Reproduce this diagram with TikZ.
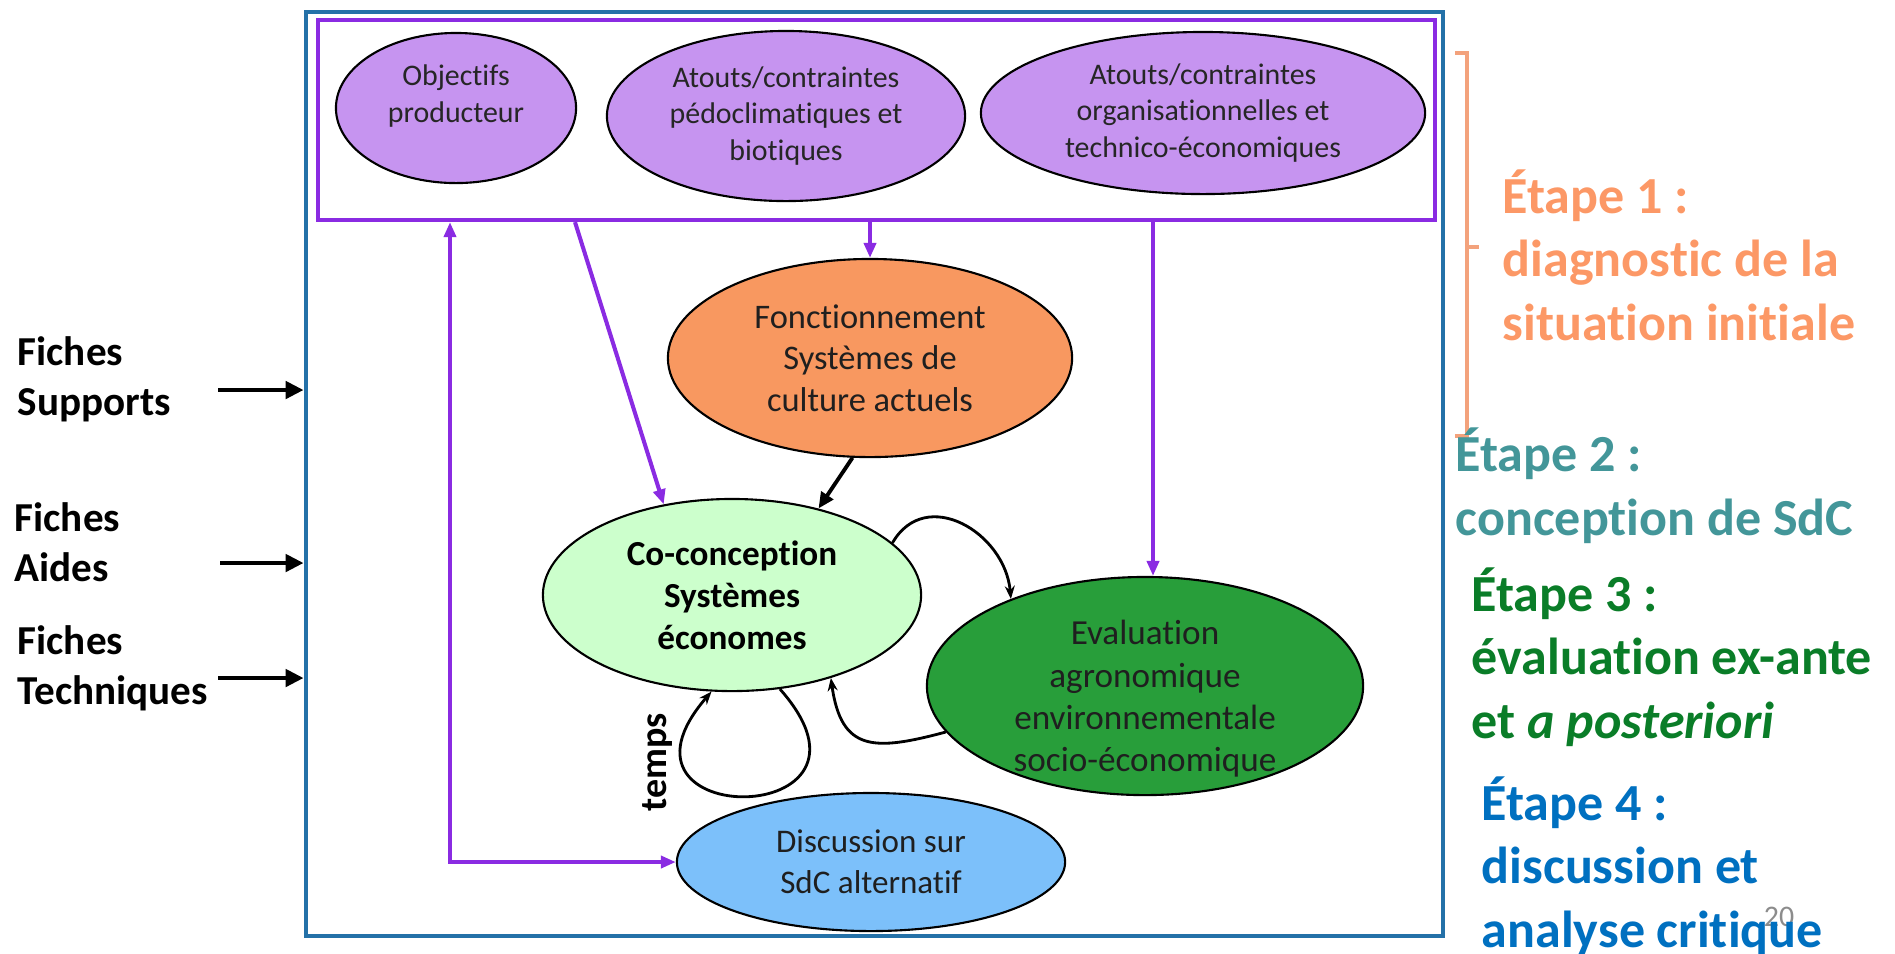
\documentclass[tikz,border=0pt]{standalone}
\usepackage{fontspec}
\setmainfont{Carlito}[Ligatures=NoCommon]
\usetikzlibrary{arrows.meta, positioning, calc, shapes.geometric}

\begin{document}
\begin{tikzpicture}[
    x=0.01cm, y=0.01cm,
    font=\fontsize{8.5}{10.5}\selectfont,
    topell/.style={ellipse, draw=black, line width=0.6pt, fill=lavender, inner sep=0pt, align=center, text=black!85},
    midell/.style={ellipse, draw=black, line width=0.6pt, inner sep=0pt, align=center, text=black!88},
    violetline/.style={draw=violetdraw, line width=1.15pt},
    violetarrow/.style={violetline, -{Triangle[length=0.15cm, width=0.12cm]}},
    violetboth/.style={violetline, {Triangle[length=0.15cm, width=0.12cm]}-{Triangle[length=0.15cm, width=0.12cm]}},
    blackarrow/.style={draw=black, line width=1.1pt, -{Triangle[length=0.16cm, width=0.14cm]}},
    fichearrow/.style={draw=black, line width=1.4pt, -{Triangle[length=0.18cm, width=0.17cm]}},
    loopline/.style={draw=black, line width=0.8pt, -{Stealth[length=0.13cm, width=0.1cm]}},
    fichelabel/.style={anchor=west, inner sep=0pt, align=left, font=\bfseries\fontsize{11.7}{14.2}\selectfont},
    etapelabel/.style={anchor=west, inner sep=0pt, align=left, font=\bfseries\fontsize{14.8}{18.1}\selectfont},
]

% ===== Colors =====
\definecolor{framedraw}{RGB}{36,113,168}
\definecolor{violetdraw}{RGB}{138,43,226}
\definecolor{lavender}{RGB}{198,148,240}
\definecolor{orangefill}{RGB}{248,152,96}
\definecolor{lightgreen}{RGB}{204,255,204}
\definecolor{darkgreen}{RGB}{40,158,58}
\definecolor{skyblue}{RGB}{124,192,250}
\definecolor{etapeA}{RGB}{252,152,102}
\definecolor{etapeB}{RGB}{67,150,153}
\definecolor{etapeC}{RGB}{10,125,40}
\definecolor{etapeD}{RGB}{0,112,192}
\definecolor{bracketorange}{RGB}{243,162,124}

\useasboundingbox (0,0) rectangle (1895,-953);

% ===== Frames =====
\node[draw=framedraw, line width=1.15pt, minimum width=11.37cm, minimum height=9.24cm, inner sep=0pt] (frame) at (874.5,-474) {};
\node[draw=violetdraw, line width=1.15pt, minimum width=11.17cm, minimum height=2.00cm, inner sep=0pt] (inputs) at (876.5,-120) {};

% ===== Inputs (top row) =====
\node[topell, minimum width=2.40cm, minimum height=1.50cm] (objectifs) at (456,-108) {Objectifs\\producteur\rule[-0.28cm]{0pt}{0.28cm}};
\node[topell, minimum width=3.58cm, minimum height=1.70cm] (pedo) at (786,-116) {Atouts/contraintes\\pédoclimatiques et\\biotiques};
\node[topell, minimum width=4.44cm, minimum height=1.62cm] (orga) at (1203,-113) {Atouts/contraintes\\organisationnelles et\\technico-économiques};

% ===== Steps =====
\node[midell, fill=orangefill, minimum width=4.04cm, minimum height=1.98cm, font=\fontsize{9.8}{11.8}\selectfont] (fonction) at (870,-358) {Fonctionnement\\Systèmes de\\culture actuels};
\node[midell, fill=lightgreen, minimum width=3.78cm, minimum height=1.92cm, text=black, font=\bfseries\fontsize{10}{12}\selectfont] (coconception) at (732,-595) {Co-conception\\Systèmes\\économes};
\node[midell, fill=darkgreen, minimum width=4.36cm, minimum height=2.18cm, inner ysep=-5pt, font=\fontsize{10}{12}\selectfont] (evaluation) at (1145,-686) {\rule{0pt}{0.5cm}Evaluation\\agronomique\\environnementale\\socio-économique};
\node[midell, fill=skyblue, minimum width=3.88cm, minimum height=1.38cm, font=\fontsize{9.4}{11.7}\selectfont] (discussion) at (871,-862) {Discussion sur\\SdC alternatif};

\node[rotate=90, font=\bfseries\fontsize{10.8}{13}\selectfont] (temps) at (657,-762) {temps};

% ===== Violet arrows from the inputs =====
\coordinate (xcoco) at (575,0);
\coordinate (xeval) at (1153,0);
\coordinate (xback) at (450,0);
\draw[violetarrow] (inputs.south -| xcoco) -- (coconception.127);
\draw[violetarrow] (inputs.south -| fonction.north) -- (fonction.north);
\draw[violetarrow] (inputs.south -| xeval) -- (xeval |- evaluation.north);
\draw[violetboth] (inputs.south -| xback) |- (discussion.west);

% ===== Black arrows between steps =====
\draw[blackarrow] (fonction.260) -- (coconception.45);
\draw[loopline] (coconception.18) to[out=60, in=95, looseness=1.3] (evaluation.147);
\draw[loopline] (evaluation.193) to[out=195, in=-82, looseness=1.5] (coconception.320);
\draw[loopline] (coconception.297) .. controls +(125,-141) and +(-122,-141) .. (coconception.258);

% ===== Left: resource sheets =====
\node[fichelabel] (supports) at (17,-379) {Fiches\\Supports};
\node[fichelabel] (aides) at (14,-542) {Fiches\\Aides};
\node[fichelabel] (techniques) at (17,-668) {Fiches\\Techniques};

\coordinate (supstart) at (218,-390);
\coordinate (aidstart) at (220,-563);
\coordinate (tecstart) at (218,-678);
\foreach \s in {supstart, aidstart, tecstart} {
    \draw[fichearrow] (\s) -- (\s -| frame.west);
}

% ===== Right: steps legend =====
\draw[bracketorange, line width=0.9pt] (1455,-53) -- (1467,-53) -- (1467,-436) -- (1455,-436);
\draw[bracketorange, line width=0.9pt] (1467,-247) -- (1479,-247);

\node[text=black!45, font=\fontsize{8.5}{10}\selectfont] (pagenum) at (1779,-917) {20};

\node[etapelabel, text=etapeA] (etape1) at (1502,-255) {Étape 1 :\\diagnostic de la\\situation initiale};
\node[etapelabel, text=etapeB] (etape2) at (1455,-486) {Étape 2 :\\conception de SdC};
\node[etapelabel, text=etapeC] (etape3) at (1471,-657) {Étape 3 :\\évaluation ex-ante\\et \textit{a posteriori}};
\node[etapelabel, text=etapeD] (etape4) at (1481,-866) {Étape 4 :\\discussion et\\analyse critique};

\end{tikzpicture}
\end{document}
